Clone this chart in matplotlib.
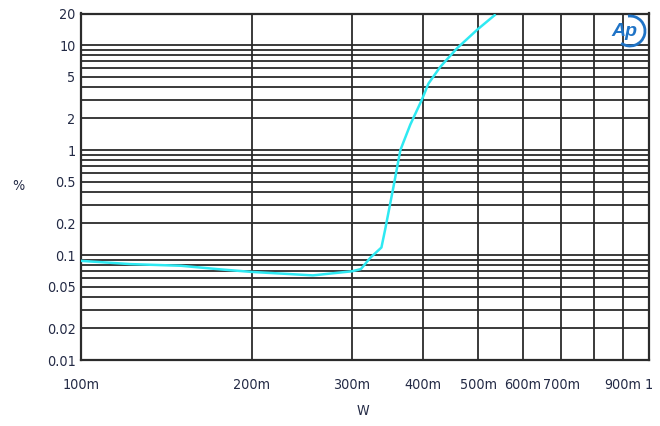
import matplotlib
matplotlib.use("Agg")
import matplotlib.pyplot as plt
from matplotlib import font_manager
from matplotlib.patches import Arc
from matplotlib.ticker import FixedLocator, FixedFormatter, NullFormatter

# THD+N versus output power
power_w = [0.100, 0.122, 0.150, 0.176, 0.200, 0.256, 0.300, 0.311, 0.323,
           0.338, 0.343, 0.355, 0.365, 0.380, 0.398, 0.409, 0.429, 0.459,
           0.499, 0.535]
thd_pct = [0.088, 0.082, 0.079, 0.073, 0.069, 0.064, 0.070, 0.0735, 0.094,
           0.118, 0.173, 0.45, 1.0, 1.75, 3.0, 4.3, 6.2, 9.3,
           14.1, 19.3]

x_ticks = [0.1, 0.2, 0.3, 0.4, 0.5, 0.6, 0.7, 0.8, 0.9, 1.0]
x_labels = ["100m", "200m", "300m", "400m", "500m", "600m", "700m", "", "900m", "1"]
y_ticks = [0.01, 0.02, 0.05, 0.1, 0.2, 0.5, 1, 2, 5, 10, 20]
y_labels = ["0.01", "0.02", "0.05", "0.1", "0.2", "0.5", "1", "2", "5", "10", "20"]
y_grid = [m * 10.0 ** e for e in (-2, -1, 0, 1) for m in range(1, 10)]

# pick a narrow sans face when one is available
narrow = None
for f in font_manager.fontManager.ttflist:
    if f.style == "normal" and f.weight in (400, "normal") and (
            "Narrow" in f.name or "Condensed" in f.name or
            f.stretch in ("condensed", "semi-condensed")):
        narrow = f
        break
if narrow is not None:
    label_font = font_manager.FontProperties(fname=narrow.fname, size=10.3)
else:
    label_font = font_manager.FontProperties(family="Liberation Sans", size=10)

text_color = "#232a45"
grid_color = "#2b2b2b"

fig = plt.figure(figsize=(6.6, 4.26), dpi=100)
ax = fig.add_axes([81 / 660, 66 / 426, 568 / 660, 346.5 / 426])
ax.set_xscale("log")
ax.set_yscale("log")
ax.set_xlim(0.1, 1.0)
ax.set_ylim(0.01, 20)

for gx in x_ticks:
    ax.axvline(gx, color=grid_color, lw=1.3, zorder=1)
for gy in y_grid:
    if 0.01 < gy < 20:
        ax.axhline(gy, color=grid_color, lw=1.3, zorder=1)

ax.plot(power_w, thd_pct, color="#2ee9f2", lw=1.8, zorder=3)

ax.xaxis.set_major_locator(FixedLocator(x_ticks))
ax.xaxis.set_major_formatter(FixedFormatter(x_labels))
ax.xaxis.set_minor_locator(FixedLocator([]))
ax.xaxis.set_minor_formatter(NullFormatter())
ax.yaxis.set_major_locator(FixedLocator(y_ticks))
ax.yaxis.set_major_formatter(FixedFormatter(y_labels))
ax.yaxis.set_minor_locator(FixedLocator([]))
ax.yaxis.set_minor_formatter(NullFormatter())

ax.tick_params(axis="both", length=0, colors=text_color)
ax.tick_params(axis="x", pad=13)
ax.tick_params(axis="y", pad=4)
for lab in ax.get_xticklabels() + ax.get_yticklabels():
    lab.set_fontproperties(label_font)
    lab.set_color(text_color)

for s in ax.spines.values():
    s.set_color(grid_color)
    s.set_linewidth(1.6)

fig.text(18 / 660, 1 - 186 / 426, "%", fontproperties=label_font,
         color=text_color, ha="center", va="center")
fig.text(363 / 660, 1 - 411 / 426, "W", fontproperties=label_font,
         color=text_color, ha="center", va="center")

# Ap logo
logo_blue = "#1f73c6"
fig.text(624 / 660, 1 - 32 / 426, "Ap", family="Liberation Sans",
         fontsize=14, fontweight="bold", fontstyle="italic",
         color=logo_blue, ha="center", va="center")
fig.add_artist(Arc((630 / 660, 1 - 31 / 426), 30 / 660, 30 / 426,
                   theta1=-115, theta2=95, color=logo_blue, lw=2,
                   transform=fig.transFigure))

fig.savefig("out.png", dpi=100)
